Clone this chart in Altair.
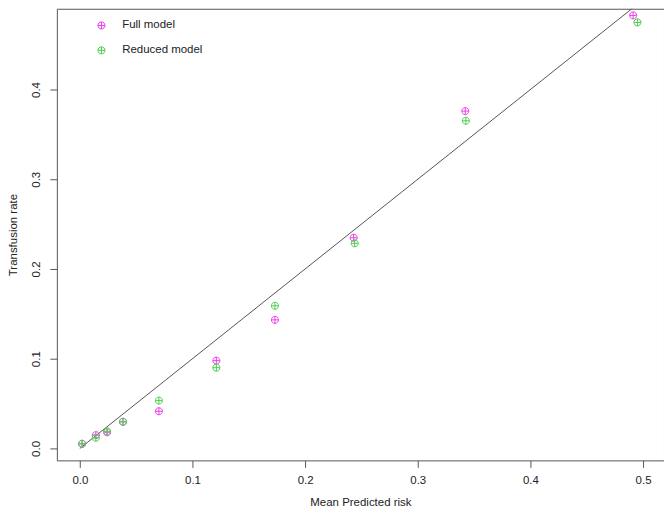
import altair as alt
import pandas as pd

# Calibration data
risk_full = [0.002, 0.0142, 0.0242, 0.0383, 0.0702, 0.1212, 0.1732, 0.2431, 0.3422, 0.4912]
rate_full = [0.0052, 0.0148, 0.0180, 0.0297, 0.0414, 0.0978, 0.1433, 0.2348, 0.3759, 0.4826]
risk_reduced = [0.002, 0.0142, 0.0242, 0.0383, 0.0702, 0.1212, 0.1732, 0.2440, 0.3427, 0.4950]
rate_reduced = [0.0052, 0.0119, 0.0190, 0.0297, 0.0533, 0.0900, 0.1590, 0.2286, 0.3652, 0.4748]
models = ["Full model", "Reduced model"]
colors = ["#EE3BEE", "#4CCF4C"]
x_ticks = [0.0, 0.1, 0.2, 0.3, 0.4, 0.5]
y_ticks = [0.0, 0.1, 0.2, 0.3, 0.4]
diag = [0.0, 0.5]

rows = []
for x, y in zip(risk_full, rate_full):
    rows.append({"risk": x, "rate": y, "model": models[0]})
for x, y in zip(risk_reduced, rate_reduced):
    rows.append({"risk": x, "rate": y, "model": models[1]})
df = pd.DataFrame(rows)
diag_df = pd.DataFrame({"risk": diag, "rate": diag})

FONT = "Liberation Sans"
CIRCLE_PLUS = "M-1,0A1,1 0 1,0 1,0A1,1 0 1,0 -1,0M-1,0L1,0M0,-1L0,1"

xscale = alt.Scale(domain=[-0.0204, 0.5186], nice=False, zero=False)
yscale = alt.Scale(domain=[-0.01333, 0.49], nice=False, zero=False)

xaxis = alt.Axis(values=x_ticks, format=".1f", grid=False, domain=False,
                 tickSize=7, tickColor="#555555", labelPadding=7,
                 labelFont=FONT, labelFontSize=11.5, labelColor="#222222",
                 title="Mean Predicted risk", titleFont=FONT, titleFontSize=11.5,
                 titleFontWeight="normal", titleColor="#222222",
                 titleY=42, titleBaseline="middle")
yaxis = alt.Axis(values=y_ticks, format=".1f", grid=False, domain=False,
                 tickSize=7, tickColor="#555555", labelPadding=8,
                 labelAngle=270, labelAlign="center", labelBaseline="bottom",
                 labelFont=FONT, labelFontSize=11.5, labelColor="#222222",
                 title="Transfusion rate", titleFont=FONT, titleFontSize=11.5,
                 titleFontWeight="normal", titleColor="#222222",
                 titleX=-43, titleY=226.5, titleAngle=270, titleAlign="center",
                 titleBaseline="middle")

line = alt.Chart(diag_df).mark_line(color="#555555", strokeWidth=1, clip=True).encode(
    x=alt.X("risk:Q", scale=xscale, axis=xaxis),
    y=alt.Y("rate:Q", scale=yscale, axis=yaxis),
)

points = alt.Chart(df).mark_point(shape=CIRCLE_PLUS, size=50, filled=False,
                                  strokeWidth=1, opacity=1).encode(
    x=alt.X("risk:Q", scale=xscale, axis=xaxis),
    y=alt.Y("rate:Q", scale=yscale, axis=yaxis),
    color=alt.Color("model:N", scale=alt.Scale(domain=models, range=colors),
                    legend=alt.Legend(title=None, orient="none", legendX=39, legendY=11,
                                      symbolType=CIRCLE_PLUS, symbolSize=50,
                                      symbolStrokeWidth=1, symbolFillColor="transparent",
                                      labelFont=FONT, labelFontSize=11.5,
                                      labelColor="#222222", labelOffset=15,
                                      rowPadding=12, padding=0)),
)

chart = alt.layer(line, points).properties(
    width=609, height=453,
    autosize=alt.AutoSizeParams(type="none"),
    padding={"left": 49, "top": 0, "right": 0, "bottom": 48},
    background="white",
).configure_view(stroke="#555555", strokeWidth=1)

chart.save("out.html", embed_options={"renderer": "svg", "actions": False})
